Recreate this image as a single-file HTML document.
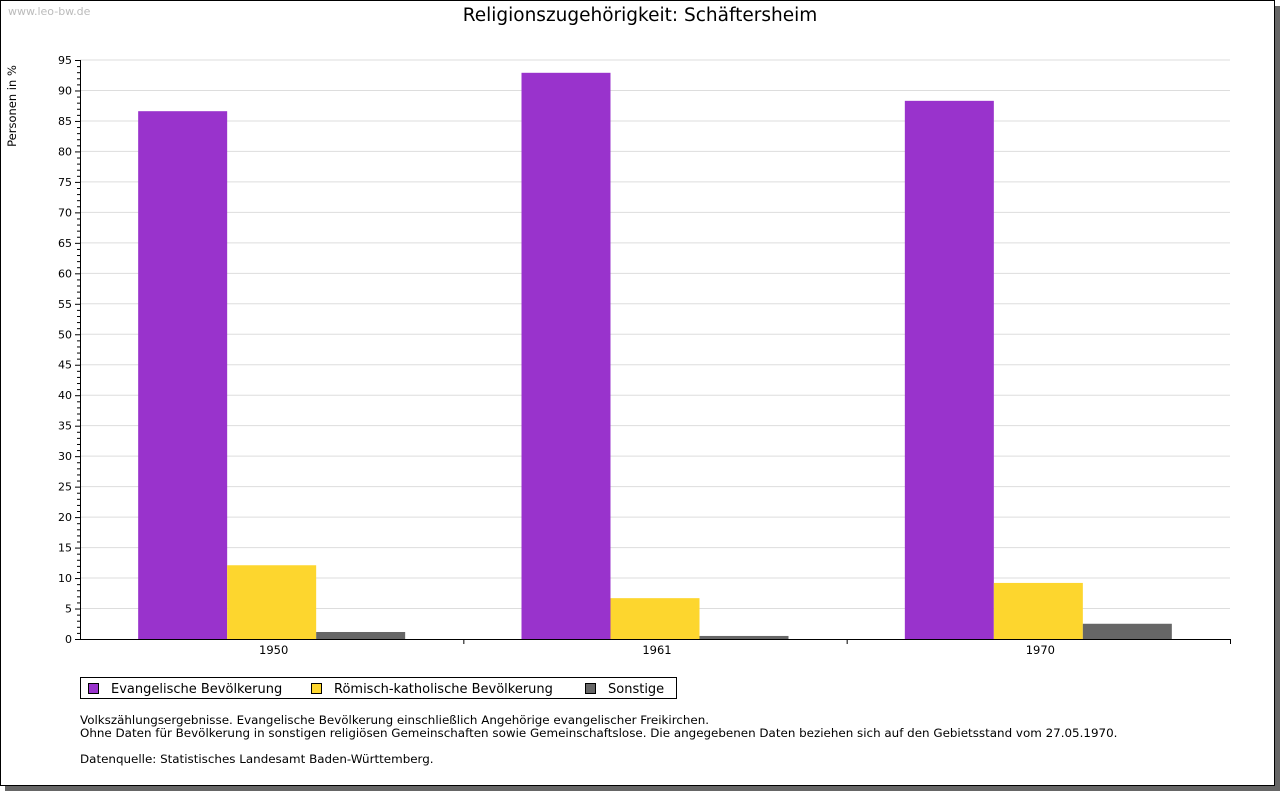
<!DOCTYPE html>
<html><head><meta charset="utf-8"><style>
body{margin:0;background:#fff;}
svg{display:block;font-family:"DejaVu Sans","Liberation Sans",sans-serif;}
</style></head><body>
<svg id="c" width="1280" height="791" xmlns="http://www.w3.org/2000/svg">
<rect x="5" y="6" width="1275" height="785" fill="#666"/>
<rect x="0.5" y="0.5" width="1274" height="785" fill="#fff" stroke="#000"/>
<text x="8" y="15" font-size="11" fill="#bbb">www.leo-bw.de</text>
<text x="640" y="21" font-size="18.5" text-anchor="middle">Religionszugehörigkeit: Schäftersheim</text>
<text transform="translate(16,106) rotate(-90)" font-size="11.5" text-anchor="middle">Personen in %</text>
<g id="grid"></g><g id="bars"></g><g id="axes"></g>
<g>
<rect x="80.5" y="677.5" width="596" height="21" fill="#fff" stroke="#000"/>
<rect x="88.5" y="683.5" width="10" height="10" fill="#9933cc" stroke="#000"/>
<text x="111" y="693" font-size="13">Evangelische Bevölkerung</text>
<rect x="311.5" y="683.5" width="10" height="10" fill="#fdd62e" stroke="#000"/>
<text x="334" y="693" font-size="13">Römisch-katholische Bevölkerung</text>
<rect x="585.5" y="683.5" width="10" height="10" fill="#666" stroke="#000"/>
<text x="608" y="693" font-size="13">Sonstige</text>
</g>
<g font-size="11.9">
<text x="80" y="724">Volkszählungsergebnisse. Evangelische Bevölkerung einschließlich Angehörige evangelischer Freikirchen.</text>
<text x="80" y="737">Ohne Daten für Bevölkerung in sonstigen religiösen Gemeinschaften sowie Gemeinschaftslose. Die angegebenen Daten beziehen sich auf den Gebietsstand vom 27.05.1970.</text>
<text x="80" y="763">Datenquelle: Statistisches Landesamt Baden-Württemberg.</text>
</g>
</svg>
<script>
const categories=["1950","1961","1970"];
const evangelisch=[86.6,92.9,88.3];
const katholisch=[12.1,6.7,9.2];
const sonstige=[1.15,0.5,2.5];
const yTicks=[0,5,10,15,20,25,30,35,40,45,50,55,60,65,70,75,80,85,90,95];
const NS="http://www.w3.org/2000/svg";
const X0=80,X1=1230,Y0=639,Y1=60,YMAX=95;
const y=v=>Y0-(v/YMAX)*(Y0-Y1);
const cw=(X1-X0)/categories.length;
function mk(t,a,p){const e=document.createElementNS(NS,t);for(const k in a)e.setAttribute(k,a[k]);p.appendChild(e);return e;}
const grid=document.getElementById('grid'),bars=document.getElementById('bars'),axes=document.getElementById('axes');
yTicks.forEach(v=>{
 if(v>0){const l=mk('line',{x1:X0,x2:X1,y1:y(v),y2:y(v),stroke:'#ddd'},grid);
 
 }
 const t=mk('text',{x:72,y:y(v)+4,'font-size':11,'text-anchor':'end'},axes);t.textContent=v;
 
 
});
for(let v=0;v<=YMAX;v++){mk('line',{x1:v%5?X0-3:X0-5,x2:X0,y1:y(v)+.5,y2:y(v)+.5,stroke:'#000'},axes);}
const series=[[evangelisch,'#9933cc','evangelisch'],[katholisch,'#fdd62e','katholisch'],[sonstige,'#666','sonstige']];
const bw=89;
categories.forEach((c,i)=>{
 const cx=X0+cw*(i+0.5);
 series.forEach((s,j)=>{
  const x=cx-1.5*bw+j*bw;
  const r=mk('rect',{x:x,y:y(s[0][i]),width:bw,height:Y0-y(s[0][i]),fill:s[1]},bars);
  
  
 });
 const t=mk('text',{x:cx+2,y:654,'font-size':11.5,'text-anchor':'middle'},axes);t.textContent=c;
 
 
 mk('line',{x1:X0+cw*(i+1)+.5,x2:X0+cw*(i+1)+.5,y1:Y0,y2:Y0+5,stroke:'#000'},axes);
});
const ya=mk('line',{x1:X0+.5,x2:X0+.5,y1:Y1,y2:Y0,stroke:'#000'},axes);


const xa=mk('line',{x1:X0,x2:X1,y1:Y0+.5,y2:Y0+.5,stroke:'#000'},axes);


</script>
</body></html>
